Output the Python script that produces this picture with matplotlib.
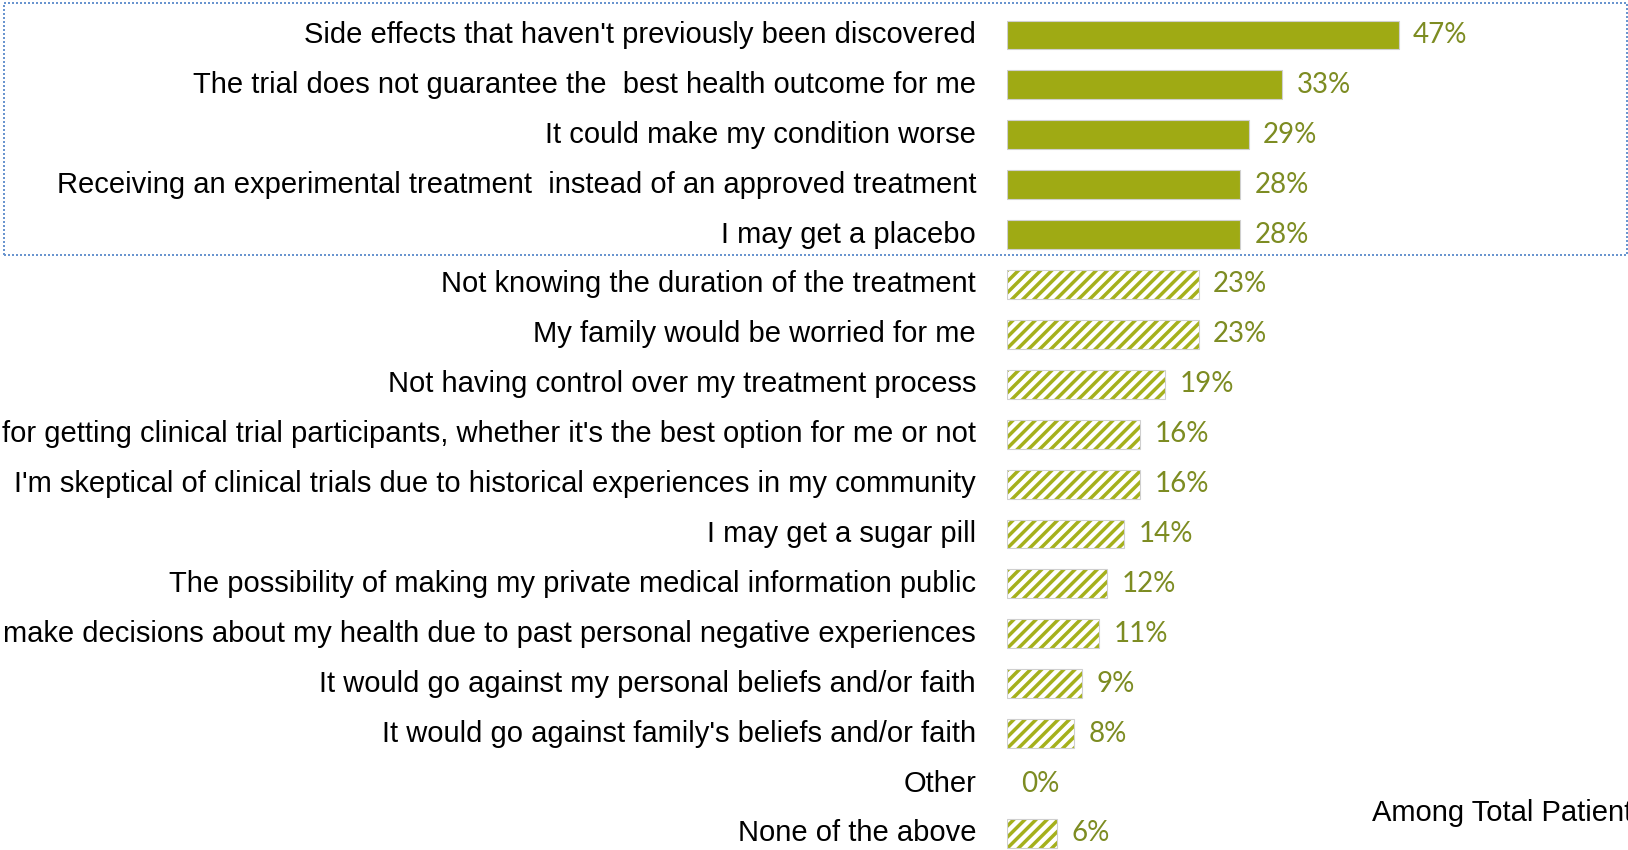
import matplotlib
matplotlib.use("Agg")
import matplotlib.pyplot as plt
from matplotlib.patches import Rectangle

W, H, DPI = 1628, 850, 100

labels = [
    "Side effects that haven't previously been discovered",
    "The trial does not guarantee the  best health outcome for me",
    "It could make my condition worse",
    "Receiving an experimental treatment  instead of an approved treatment",
    "I may get a placebo",
    "Not knowing the duration of the treatment",
    "My family would be worried for me",
    "Not having control over my treatment process",
    "for getting clinical trial participants, whether it's the best option for me or not",
    "I'm skeptical of clinical trials due to historical experiences in my community",
    "I may get a sugar pill",
    "The possibility of making my private medical information public",
    "make decisions about my health due to past personal negative experiences",
    "It would go against my personal beliefs and/or faith",
    "It would go against family's beliefs and/or faith",
    "Other",
    "None of the above",
]
values = [47, 33, 29, 28, 28, 23, 23, 19, 16, 16, 14, 12, 11, 9, 8, 0, 6]
n_top = 5  # top concerns drawn solid, the rest hatched

green = "#9FAA14"
label_green = "#7D8C22"
edge_grey = "#CFCFCF"

plt.rcParams["hatch.linewidth"] = 2.5

fig = plt.figure(figsize=(W / DPI, H / DPI), dpi=DPI)

# axes placed in pixel terms: x=0 at 1007px, 8.33px per percent, rows 49.9px apart
x0, px_per = 1007, 8.33
row0, pitch = 35, 49.9
ax = fig.add_axes([x0 / W, 0, (W - x0) / W, 1])
ax.set_xlim(0, (W - x0) / px_per)
ax.set_ylim((H - row0) / pitch, -row0 / pitch)
ax.axis("off")

for i, (lab, v) in enumerate(zip(labels, values)):
    if i < n_top:
        ax.barh(i, v, height=0.58, color=green, edgecolor=edge_grey, linewidth=0.8)
    elif v > 0:
        # hatch takes the edge colour, so stripes and outline are separate bars
        ax.barh(i, v, height=0.58, color="white", edgecolor="#A5B01C",
                linewidth=0, hatch="///")
        ax.barh(i, v, height=0.58, fill=False, edgecolor=edge_grey, linewidth=0.8)
    ax.text(v + 1.75, i, f"{v}%", ha="left", va="center", fontsize=20,
            family="Lato", color=label_green)
    ax.text(-31 / px_per, i, lab, ha="right", va="center", fontsize=21,
            family="Liberation Sans", color="black", clip_on=False)

# dotted frame around the top five items
frame = Rectangle((4 / W, 1 - 255 / H), (W - 5) / W, 252 / H,
                  transform=fig.transFigure, fill=False, edgecolor="#6A95CF",
                  linewidth=1.44, linestyle=(0, (1, 1)))
fig.patches.append(frame)

fig.text(1372 / W, 1 - 813 / H, "Among Total Patients", ha="left",
         va="center", fontsize=21, family="Liberation Sans", color="black")

fig.savefig("out.png", dpi=DPI)
